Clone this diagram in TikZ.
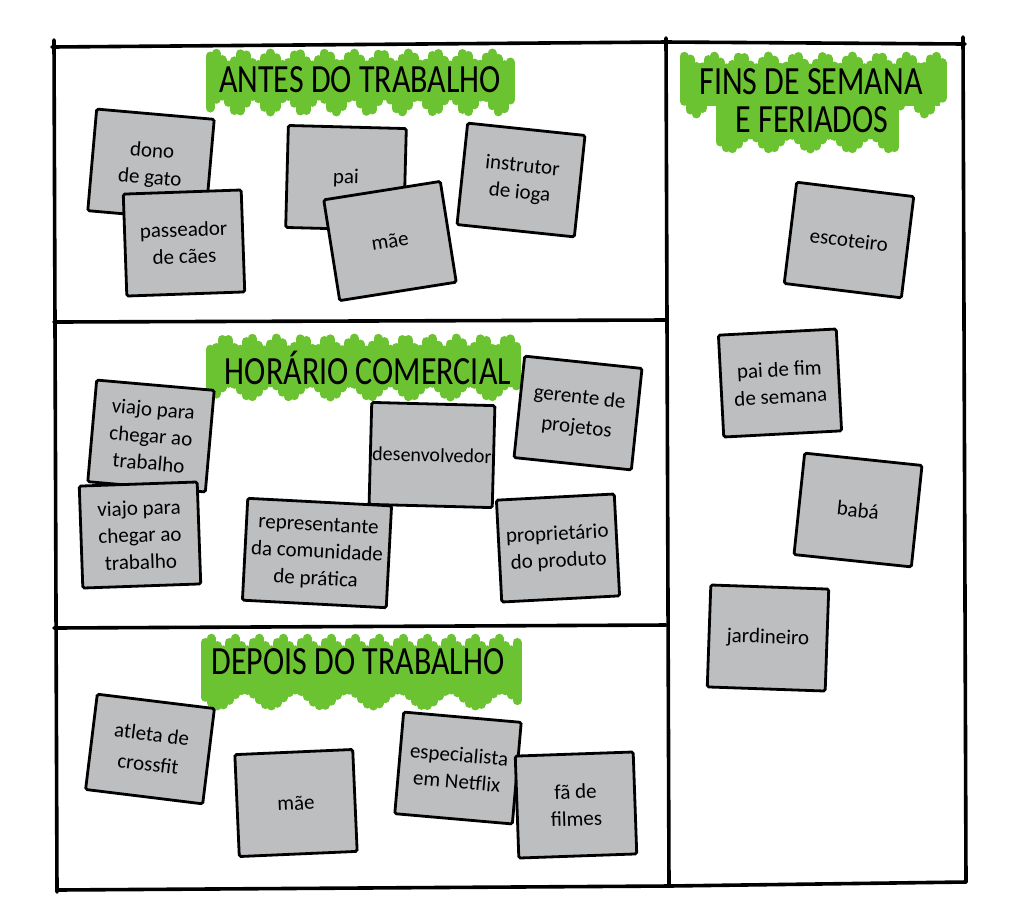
\documentclass[tikz,border=0pt]{standalone}
\usepackage{fontspec}
\setmainfont{Carlito}
\definecolor{notegray}{RGB}{189,190,192}
\definecolor{markgreen}{RGB}{108,195,49}
\tikzset{
  note/.style={rectangle, draw=black, line width=1.4pt, fill=notegray, rounded corners=0.8pt,
    minimum width=59pt, minimum height=51pt, align=center, inner sep=1pt,
    font=\fontsize{10.5}{13.5}\selectfont},
  heading/.style={font=\fontsize{16}{20}\selectfont, yscale=1.25, inner sep=0pt},
  frame/.style={line width=1.8pt, line cap=round, line join=round},
  marker/.style={markgreen, line width=4.5pt, line cap=round}
}

\begin{document}
\begin{tikzpicture}[x=0.5pt, y=-0.5pt]
    \useasboundingbox (0,0) rectangle (1024,918);

    % green marker behind the headings
    \fill[markgreen] (214,66) rectangle (506,98);
    \foreach \x in {210,216,...,510} {
        \draw[marker] (\x,{59+6*sin(\x*13)}) -- (\x,{104+8*sin(\x*11)});
    }
    \fill[markgreen] (214,350) rectangle (516,386);
    \foreach \x in {210,216,...,520} {
        \draw[marker] (\x,{344+6*sin(\x*14)}) -- (\x,{390+7*sin(\x*9)});
    }
    \fill[markgreen] (210,650) rectangle (516,692);
    \foreach \x in {205,211,...,520} {
        \draw[marker] (\x,{644+6*sin(\x*15)}) -- (\x,{698+8*sin(\x*7)});
    }
    \fill[markgreen] (688,68) rectangle (940,106);
    \foreach \x in {684,690,...,944} {
        \draw[marker] (\x,{62+6*sin(\x*13)}) -- (\x,{106+8*sin(\x*11)});
    }
    \fill[markgreen] (724,106) rectangle (890,138);
    \foreach \x in {720,726,...,894} {
        \draw[marker] (\x,{102+4*sin(\x*15)}) -- (\x,{142+7*sin(\x*9)});
    }

    % headings
    \node (antes) at (360,80) [heading] {ANTES DO TRABALHO};
    \node (horario) at (368,368) [heading] {HORÁRIO COMERCIAL};
    \node (depois) at (358,662) [heading] {DEPOIS DO TRABALHO};
    \node (fins) at (811,82) [heading] {FINS DE SEMANA};
    \node (feriados) at (812,120) [heading] {E FERIADOS};

    % frame
    \draw[frame] (52,47) -- (666,42) -- (965,44);
    \draw[frame] (54,40) -- (57,892);
    \draw[frame] (666,38) -- (669,886);
    \draw[frame] (963,37) -- (966,882);
    \draw[frame] (54,322) -- (666,320);
    \draw[frame] (54,628) -- (666,625);
    \draw[frame] (57,890) -- (669,886) -- (966,882);

    % notes: antes do trabalho
    \node (dono) at (151,165) [note, rotate=-5] {dono\\de gato};
    \node (passeador) at (184,243) [note, rotate=2] {passeador\\de cães};
    \node (pai) at (346,178) [note, rotate=-1.5] {pai};
    \node (mae) at (390,241) [note, rotate=9] {mãe};
    \node (ioga) at (521,180) [note, rotate=-6] {instrutor\\de ioga};

    % notes: horario comercial
    \node (viagem) at (151,436) [note, rotate=-5] {viajo para\\chegar ao\\trabalho};
    \node (viagemb) at (140,535) [note, rotate=2] {viajo para\\chegar ao\\trabalho};
    \node (dev) at (432,455) [note, rotate=-1.5, font=\fontsize{10}{13}\selectfont] {desenvolvedor};
    \node (gerente) at (578,413) [note, rotate=-6, font=\fontsize{10.5}{15}\selectfont] {gerente de\\projetos};
    \node (comunidade) at (317,553) [note, rotate=-3, minimum width=72pt] {representante\\da comunidade\\de prática};
    \node (produto) at (558,548) [note, rotate=3] {proprietário\\do produto};

    % notes: depois do trabalho
    \node (atleta) at (150,749) [note, rotate=-7, minimum height=48pt, font=\fontsize{10.5}{15}\selectfont] {atleta de\\crossfit};
    \node (maeb) at (296,803) [note, rotate=2.5] {mãe};
    \node (netflix) at (458,768) [note, rotate=-5] {especialista\\em Netflix};
    \node (filmes) at (576,805) [note, rotate=2] {fã de\\filmes};

    % notes: fins de semana
    \node (escoteiro) at (849,240) [note, rotate=-7] {escoteiro};
    \node (paifim) at (780,383) [note, rotate=3] {pai de fim\\de semana};
    \node (baba) at (858,510) [note, rotate=-6] {babá};
    \node (jardineiro) at (768,638) [note, rotate=-2] {jardineiro};

\end{tikzpicture}
\end{document}
